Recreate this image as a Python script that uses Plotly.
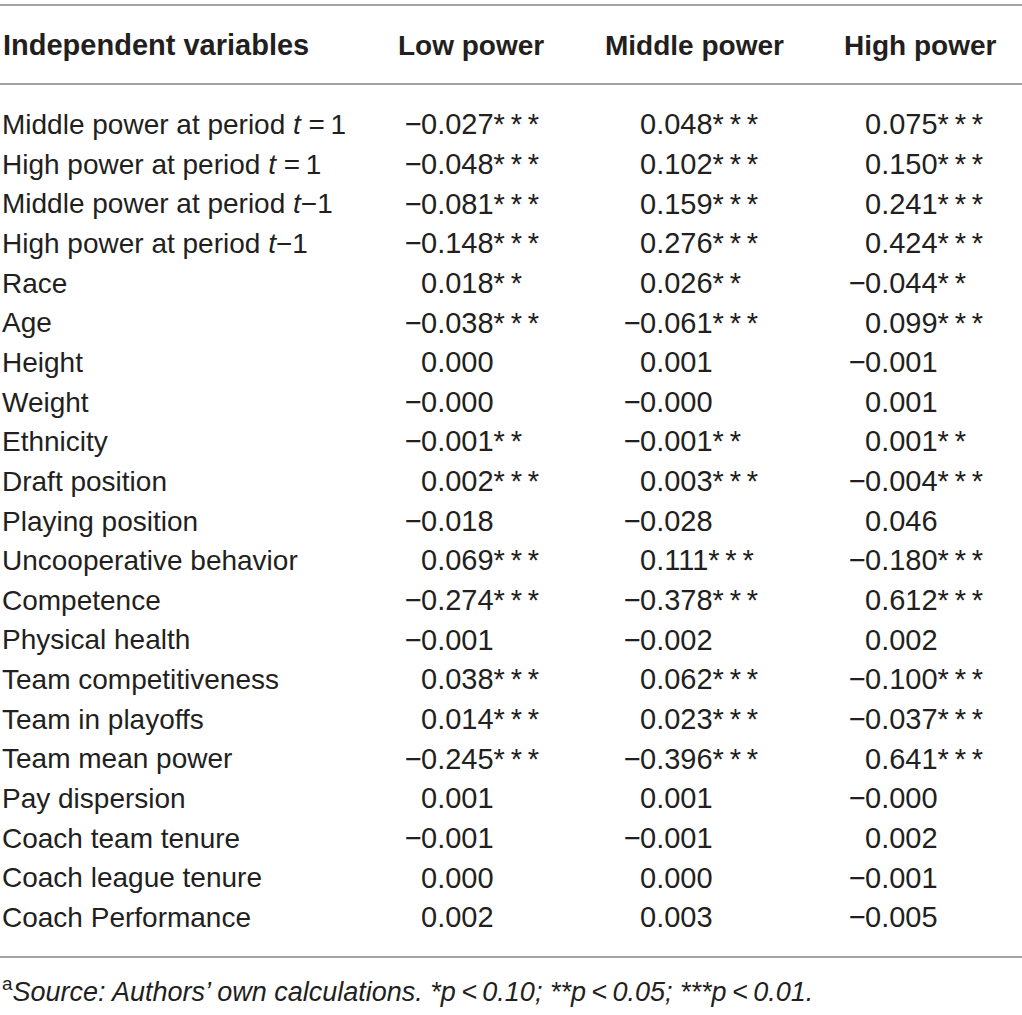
import plotly.graph_objects as go

# table content
variables = [
    "Middle power at period <i>t</i> =\u20091",
    "High power at period <i>t</i> =\u20091",
    "Middle power at period <i>t</i>−1",
    "High power at period <i>t</i>−1",
    "Race",
    "Age",
    "Height",
    "Weight",
    "Ethnicity",
    "Draft position",
    "Playing position",
    "Uncooperative behavior",
    "Competence",
    "Physical health",
    "Team competitiveness",
    "Team in playoffs",
    "Team mean power",
    "Pay dispersion",
    "Coach team tenure",
    "Coach league tenure",
    "Coach Performance",
]
columns = ["Low power", "Middle power", "High power"]
low_power = ["−0.027***", "−0.048***", "−0.081***", "−0.148***", "0.018**", "−0.038***",
             "0.000", "−0.000", "−0.001**", "0.002***", "−0.018", "0.069***", "−0.274***",
             "−0.001", "0.038***", "0.014***", "−0.245***", "0.001", "−0.001", "0.000", "0.002"]
middle_power = ["0.048***", "0.102***", "0.159***", "0.276***", "0.026**", "−0.061***",
                "0.001", "−0.000", "−0.001**", "0.003***", "−0.028", "0.111***", "−0.378***",
                "−0.002", "0.062***", "0.023***", "−0.396***", "0.001", "−0.001", "0.000", "0.003"]
high_power = ["0.075***", "0.150***", "0.241***", "0.424***", "−0.044**", "0.099***",
              "−0.001", "0.001", "0.001**", "−0.004***", "0.046", "−0.180***", "0.612***",
              "0.002", "−0.100***", "−0.037***", "0.641***", "−0.000", "0.002", "−0.001", "−0.005"]
footnote = ("<sup>a</sup><i>Source: Authors’ own calculations. *p\u2009&lt;\u20090.10; "
            "**p\u2009&lt;\u20090.05; ***p\u2009&lt;\u20090.01.</i>")

W, H = 1022, 1015
FONT = "Liberation Sans, Arial, sans-serif"
INK = "#231f20"
RULE = "#a3a3a3"
# x of the first digit in each value column (decimal aligned)
col_x = {"Low power": 421, "Middle power": 640, "High power": 865}
head_x = {"Low power": 471, "Middle power": 694, "High power": 920}


def spaced(v):
    return v.lstrip("−").replace("*", "*\u2009").rstrip("\u2009")


fig = go.Figure()

fig.add_trace(go.Scatter(
    x=[2] * len(variables), y=variables, text=variables, mode="text",
    textposition="middle right",
    textfont=dict(family=FONT, size=28, color=INK), hoverinfo="skip"))

for name, vals in zip(columns, [low_power, middle_power, high_power]):
    neg_rows = [r for r, v in zip(variables, vals) if v.startswith("−")]
    fig.add_trace(go.Scatter(
        x=[col_x[name] + 1] * len(neg_rows), y=neg_rows, text=["−"] * len(neg_rows), mode="text",
        textposition="middle left",
        textfont=dict(family=FONT, size=29, color=INK), hoverinfo="skip"))
    fig.add_trace(go.Scatter(
        x=[col_x[name]] * len(vals), y=variables, text=[spaced(v) for v in vals], mode="text",
        textposition="middle right",
        textfont=dict(family=FONT, size=29, color=INK), hoverinfo="skip"))


def py(p):
    return 1 - p / H


fig.add_annotation(x=1, y=py(45), xref="x", yref="paper", text="<b>Independent variables</b>",
                   xanchor="left", yanchor="middle", showarrow=False,
                   font=dict(family=FONT, size=29, color=INK))
for name in columns:
    fig.add_annotation(x=head_x[name], y=py(45), xref="x", yref="paper", text=f"<b>{name}</b>",
                       xanchor="center", yanchor="middle", showarrow=False,
                       font=dict(family=FONT, size=28, color=INK))
fig.add_annotation(x=0, y=py(990), xref="x", yref="paper", text=footnote,
                   xanchor="left", yanchor="middle", showarrow=False,
                   font=dict(family=FONT, size=27, color=INK))

for yy in [5, 84, 957]:
    fig.add_shape(type="line", xref="paper", yref="paper", x0=0, x1=1, y0=py(yy), y1=py(yy),
                  line=dict(color=RULE, width=2))

dy = 39.65
top = 127
r0 = -top / dy
r1 = r0 + H / dy
fig.update_layout(
    width=W, height=H, margin=dict(l=0, r=0, t=0, b=0),
    paper_bgcolor="white", plot_bgcolor="white", showlegend=False,
    xaxis=dict(range=[0, W], visible=False, fixedrange=True),
    yaxis=dict(type="category", categoryarray=variables, categoryorder="array",
               range=[r1, r0], visible=False, fixedrange=True),
)

fig.write_html("out.html", config={"displayModeBar": False},
               post_script="document.body.style.margin='0px';")
